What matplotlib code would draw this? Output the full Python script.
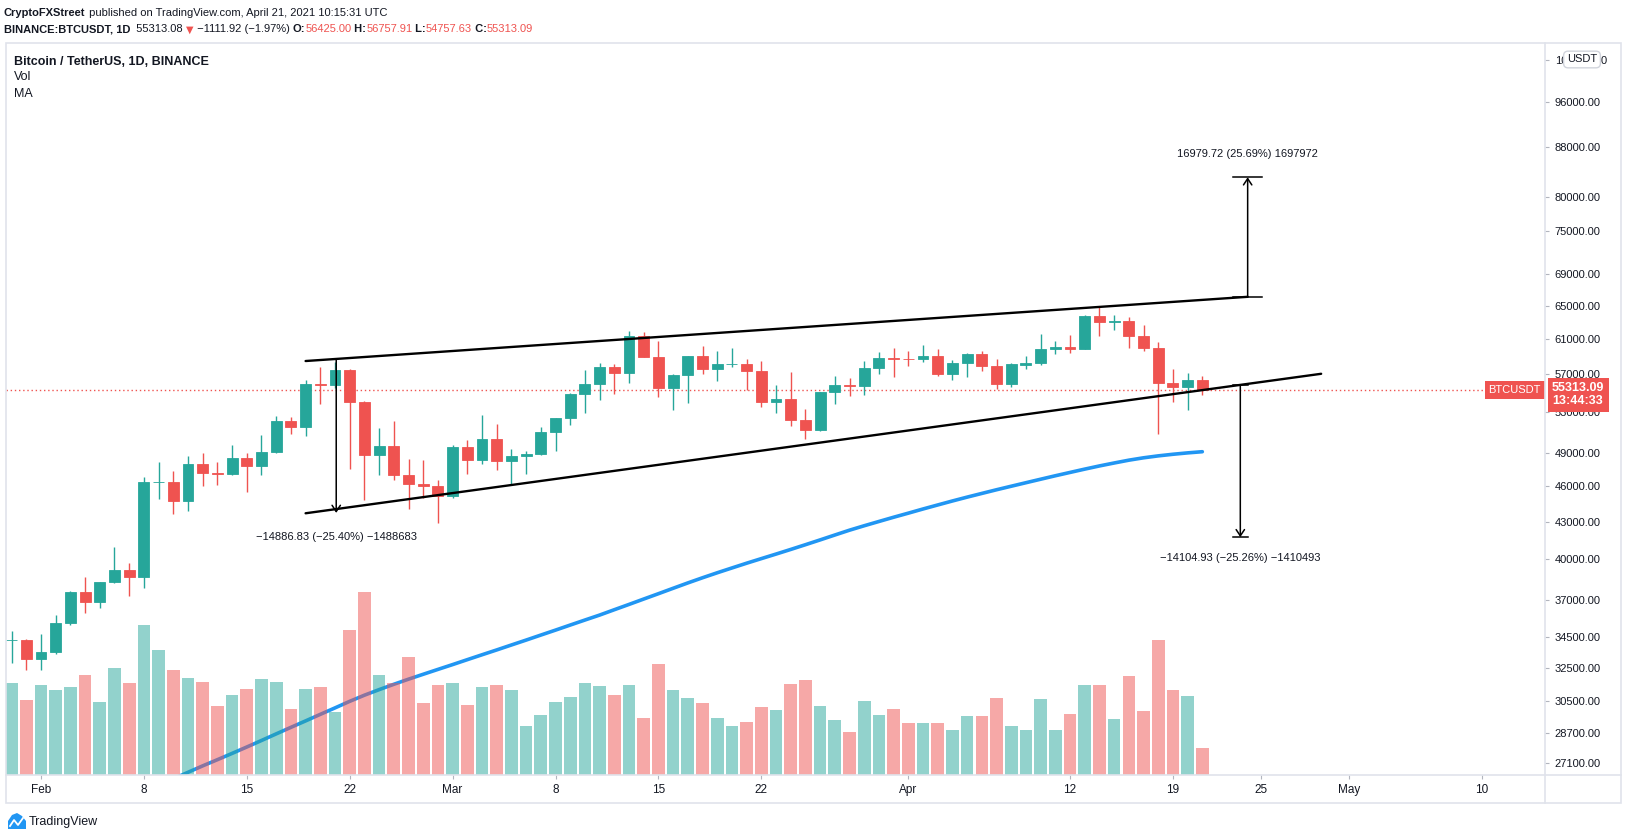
import matplotlib
matplotlib.use('Agg')
import matplotlib.pyplot as plt
import matplotlib.dates as mdates
from matplotlib.lines import Line2D
from matplotlib.patches import Rectangle, Polygon
from matplotlib.ticker import NullLocator
import numpy as np
import pandas as pd

plt.rcParams['font.family'] = ['Liberation Sans', 'DejaVu Sans']

# daily candles, Jan 30 - Apr 21 2021
dates = pd.date_range('2021-01-30', '2021-04-21', freq='D')

opens = [34262, 34316, 33040, 33507, 35415, 37584, 36890, 38300, 39200, 38700,
         46390, 46420, 44760, 48010, 47210, 47130, 48560, 47850, 49120, 52120,
         51550, 55980, 55840, 57470, 54090, 48870, 49690, 47000, 46240, 46060,
         45190, 49590, 48400, 50360, 48310, 48750, 48930, 51040, 52430, 54890,
         55940, 57790, 57140, 61330, 58920, 55520, 56920, 59020, 57560, 58075,
         58107, 57350, 54050, 54350, 52230, 51240, 55090, 55830, 55750, 57690,
         58800, 58690, 58640, 59020, 57020, 58240, 59250, 57900, 55940, 58020,
         58240, 59820, 60050, 59850, 63720, 63020, 63160, 61330, 59950, 56050,
         55620, 56425]
highs = [34880, 34330, 34676, 35960, 37680, 38670, 38300, 40960, 39720, 46850,
         48190, 47370, 48750, 49030, 48190, 49780, 49030, 50750, 52630, 52520,
         56380, 57830, 58350, 57530, 54180, 51430, 52120, 48470, 48370, 46600,
         49780, 50260, 52720, 51820, 49420, 49210, 51540, 52430, 54990, 57470,
         58240, 58130, 61910, 61840, 60750, 57020, 59020, 60170, 59590, 59950,
         58700, 58470, 55830, 57250, 53340, 55090, 56810, 56580, 58470, 59480,
         59950, 59590, 60280, 59840, 58590, 59360, 59590, 58700, 58240, 59020,
         61560, 60750, 61440, 63840, 64940, 63840, 63600, 62630, 60630, 57580,
         57140, 56757.91]
lows = [32800, 32370, 32370, 33380, 35280, 36125, 36470, 38250, 37320, 37890,
        44930, 43650, 43910, 46060, 46150, 47000, 45520, 46990, 49000, 50840,
        50680, 53880, 55480, 47550, 44840, 46990, 46590, 44040, 45010, 42910,
        44950, 47080, 48050, 47480, 46240, 47080, 48840, 49250, 51750, 52920,
        54210, 54890, 56050, 58900, 54580, 53230, 54000, 57020, 56270, 57790,
        55300, 53510, 52920, 51630, 50360, 51140, 53840, 54710, 54750, 57020,
        56740, 57900, 58360, 56790, 56380, 56710, 57360, 55400, 55620, 57560,
        58020, 59250, 59360, 59800, 61310, 62030, 59950, 59590, 50850, 54100,
        53230, 54757.63]
closes = [34316, 33040, 33507, 35415, 37584, 36890, 38300, 39200, 38700, 46390,
          46420, 44760, 48010, 47210, 47130, 48560, 47850, 49120, 52120, 51550,
          55980, 55840, 57470, 54090, 48870, 49690, 47000, 46240, 46060, 45190,
          49590, 48400, 50360, 48310, 48750, 48930, 51040, 52430, 54890, 55940,
          57790, 57140, 61330, 58920, 55520, 56920, 59020, 57560, 58075, 58107,
          57350, 54050, 54350, 52230, 51240, 55090, 55830, 55750, 57690, 58800,
          58690, 58640, 59020, 57020, 58240, 59250, 57900, 55940, 58130, 58240,
          59820, 60050, 59850, 63720, 63020, 63160, 61330, 59950, 56050, 55620,
          56425, 55313.09]
# volume, thousand BTC
volumes = [82.8, 67.5, 81.0, 76.5, 79.2, 90.0, 65.7, 96.3, 82.8, 135.0,
           112.5, 94.5, 87.3, 83.7, 62.1, 72.0, 77.4, 86.4, 83.7, 59.4,
           77.4, 79.2, 56.7, 130.5, 164.7, 90.0, 82.5, 106.2, 64.8, 81.0,
           82.8, 63.0, 79.2, 81.0, 76.5, 44.1, 54.0, 65.7, 70.2, 82.8,
           80.1, 72.0, 81.0, 51.3, 99.9, 76.5, 69.3, 64.8, 51.3, 44.1,
           47.7, 61.2, 58.5, 81.9, 85.5, 62.1, 49.5, 38.7, 66.6, 54.0,
           59.4, 46.8, 46.8, 46.8, 40.5, 53.1, 53.1, 69.3, 44.1, 40.5,
           68.4, 40.5, 54.9, 81.0, 81.0, 50.4, 89.1, 57.6, 121.5, 76.5,
           71.1, 24.3]

# moving average (blue), Feb 9 - Apr 21
ma_dates = pd.date_range('2021-02-09', '2021-04-21', freq='D')
ma_values = [25970, 26290, 26620, 26950, 27270, 27600, 27940, 28290, 28650, 29010,
             29370, 29740, 30110, 30490, 30850, 31180, 31500, 31810, 32110, 32410,
             32710, 33020, 33330, 33640, 33960, 34280, 34610, 34940, 35280, 35620,
             35960, 36330, 36700, 37080, 37460, 37850, 38240, 38620, 38990, 39350,
             39710, 40060, 40410, 40770, 41140, 41520, 41910, 42300, 42660, 43010,
             43360, 43700, 44050, 44390, 44730, 45060, 45380, 45700, 46010, 46320,
             46630, 46940, 47240, 47540, 47830, 48100, 48360, 48580, 48760, 48910,
             49040, 49150]

# drawings: channel lines and measures
upper_line = (['2021-02-19', '2021-04-24 02:00'], [58460, 66100])
lower_line = (['2021-02-19', '2021-04-29 02:00'], [43690, 57050])
measure_left = ('2021-02-21 02:00', 58610, 43720, '\u221214886.83 (\u221225.40%) \u22121488683')
measure_up = ('2021-04-24 02:00', 66100, 83080, '16979.72 (25.69%) 1697972')
measure_down = ('2021-04-23 14:00', 55840, 41735, '\u221214104.93 (\u221225.26%) \u22121410493')

price_ticks = [27100, 28700, 30500, 32500, 34500, 37000, 40000, 43000, 46000, 49000,
               53000, 57000, 61000, 65000, 69000, 75000, 80000, 88000, 96000, 104000]
time_ticks = ['2021-02-01', '2021-02-08', '2021-02-15', '2021-02-22', '2021-03-01',
              '2021-03-08', '2021-03-15', '2021-03-22', '2021-04-01', '2021-04-12',
              '2021-04-19', '2021-04-25', '2021-05-01', '2021-05-10']
time_labels = ['Feb', '8', '15', '22', 'Mar', '8', '15', '22', 'Apr', '12', '19', '25', 'May', '10']

GREEN, RED, BLUE = '#26a69a', '#ef5350', '#2196f3'
TXT, FRAME = '#131722', '#e0e3eb'

W, H = 1627, 840
fig = plt.figure(figsize=(W / 100, H / 100), dpi=100)


def fx(x):
    return x / W


def fy(y):
    return 1 - y / H


def dnum(s):
    return mdates.date2num(pd.Timestamp(s).to_pydatetime())


ax = fig.add_axes([fx(6), fy(775), fx(1545) - fx(6), fy(43) - fy(775)])
ax2 = ax.twinx()
ax.set_yscale('log')
ax.yaxis.tick_right()

x = mdates.date2num(dates.to_pydatetime())
o, h, l, c = map(np.array, (opens, highs, lows, closes))
up = c >= o
cols = np.where(up, GREEN, RED)

# candles
ax.vlines(x, l, h, colors=cols, lw=1.0, zorder=3)
ax.bar(x, np.abs(c - o), bottom=np.minimum(o, c), width=0.74, color=cols,
       edgecolor=cols, linewidth=0.6, zorder=4)

# MA
ax.plot(mdates.date2num(ma_dates.to_pydatetime()), ma_values, color=BLUE, lw=2.6,
        zorder=2, solid_capstyle='round', solid_joinstyle='round')

# volume (semi transparent, on top)
vcols = [(0.149, 0.651, 0.604, 0.5) if u else (0.937, 0.325, 0.314, 0.5) for u in up]
ax2.bar(x, volumes, width=0.86, color=vcols, linewidth=0)
ax2.set_ylim(0, 659)
ax2.set_yticks([])
for s in ax2.spines.values():
    s.set_visible(False)

# last price line
ax.axhline(closes[-1], color=RED, lw=1, ls=(0, (1, 2)), zorder=1)

# channel
for xs, ys in (upper_line, lower_line):
    ax.plot([dnum(v) for v in xs], ys, color='black', lw=1.7, zorder=6,
            solid_capstyle='round')


def measure(m, cap, label_dy, caps_at):
    xm = dnum(m[0])
    ax.annotate('', xy=(xm, m[2]), xytext=(xm, m[1]),
                arrowprops=dict(arrowstyle='->,head_length=0.45,head_width=0.3',
                                lw=1.1, color='black', shrinkA=0, shrinkB=0),
                zorder=6)
    for p in caps_at:
        ax.plot([xm - cap, xm + cap], [p, p], color='black', lw=1.1, zorder=6)
    ax.annotate(m[3], xy=(xm, m[2]), xytext=(0, label_dy), textcoords='offset points',
                ha='center', va='center', fontsize=8, color=TXT)


measure(measure_left, 0.5, -17, [])
measure(measure_up, 1.0, 17, [measure_up[1], measure_up[2]])
measure(measure_down, 0.5, -15, [measure_down[1], measure_down[2]])

# axes setup
x0 = dnum('2021-02-01')
ax.set_xlim(x0 - 2.38, x0 + 102.31)
ax.set_ylim(26483, 107408)
ax.set_yticks(price_ticks)
ax.set_yticklabels([f'{v:.2f}' for v in price_ticks])
ax.yaxis.set_minor_locator(NullLocator())
ax.set_xticks([dnum(t) for t in time_ticks])
ax.set_xticklabels(time_labels)
ax.tick_params(axis='y', length=3, color='#b2b5be', pad=4, labelsize=8, labelcolor=TXT)
ax.tick_params(axis='x', length=3, color='#b2b5be', pad=3.5, labelsize=8.5, labelcolor=TXT)
for s in ax.spines.values():
    s.set_visible(False)
ax.grid(False)

# price labels
ax.annotate('BTCUSDT', xy=(1, closes[-1]), xycoords=('axes fraction', 'data'),
            xytext=(-3, 0), textcoords='offset points', ha='right', va='center',
            fontsize=8, color='white', zorder=10,
            bbox=dict(boxstyle='square,pad=0.35', fc=RED, ec='none'))
ax.annotate(f'{closes[-1]:.2f}\n13:44:33', xy=(1, closes[-1]),
            xycoords=('axes fraction', 'data'), xytext=(5, 5.5),
            textcoords='offset points', ha='left', va='top', fontsize=9,
            fontweight='bold', color='white', linespacing=1.1, zorder=10,
            annotation_clip=False,
            bbox=dict(boxstyle='square,pad=0.35', fc=RED, ec='none'))

# frame
fig.add_artist(Rectangle((fx(6), fy(803)), fx(1621) - fx(6), fy(43) - fy(803),
                         transform=fig.transFigure, fill=False, ec=FRAME, lw=1.2))
fig.add_artist(Line2D([fx(6), fx(1621)], [fy(775), fy(775)], transform=fig.transFigure,
                      color=FRAME, lw=1.2))
fig.add_artist(Line2D([fx(1545), fx(1545)], [fy(43), fy(803)], transform=fig.transFigure,
                      color=FRAME, lw=1.2))

fig.text(fx(1582), fy(59.5), 'USDT', ha='center', va='center', fontsize=8, color=TXT,
         bbox=dict(boxstyle='round,pad=0.3,rounding_size=0.4', fc='white', ec='#d1d4dc'))


def chain(parts, x, y):
    first, kw = parts[0]
    t = fig.text(x, y, first, va='center', ha='left', fontsize=8, color=TXT, **kw)
    for s, kw in parts[1:]:
        style = dict(fontsize=8, color=TXT)
        style.update(kw)
        t = ax.annotate(s, xy=(1, 0), xycoords=t, va='bottom', ha='left', **style)
    return t


chain([('CryptoFXStreet', dict(fontweight='bold')),
       (' published on TradingView.com, April 21, 2021 10:15:31 UTC', {})],
      fx(4), fy(12.7))
chain([('BINANCE:BTCUSDT, 1D', dict(fontweight='bold')),
       ('  55313.08 ', {}),
       ('\u25bc', dict(color=RED, family=['DejaVu Sans'], fontsize=7)),
       (' \u22121111.92 (\u22121.97%) ', {}),
       ('O:', dict(fontweight='bold')), ('56425.00', dict(color=RED)),
       (' H:', dict(fontweight='bold')), ('56757.91', dict(color=RED)),
       (' L:', dict(fontweight='bold')), ('54757.63', dict(color=RED)),
       (' C:', dict(fontweight='bold')), ('55313.09', dict(color=RED))],
      fx(4), fy(29.3))

fig.text(fx(14), fy(61.7), 'Bitcoin / TetherUS, 1D, BINANCE', fontsize=9,
         fontweight='bold', color=TXT, va='center')
fig.text(fx(14), fy(77.3), 'Vol', fontsize=9, color=TXT, va='center')
fig.text(fx(14), fy(94.3), 'MA', fontsize=9, color=TXT, va='center')

# TradingView logo
logo = [(8, 829), (8, 821), (12, 815), (17, 813), (22, 816), (26, 821), (26, 829)]
fig.add_artist(Polygon([(fx(a), fy(b)) for a, b in logo], closed=True,
                       transform=fig.transFigure, fc=BLUE, ec='none'))
zig = [(10, 826), (14, 820), (18, 825), (23, 818)]
fig.add_artist(Line2D([fx(a) for a, b in zig], [fy(b) for a, b in zig],
                      transform=fig.transFigure, color='white', lw=1.3))
fig.text(fx(29), fy(822), 'TradingView', fontsize=9, color=TXT, va='center')

fig.savefig('out.png', dpi=100)
